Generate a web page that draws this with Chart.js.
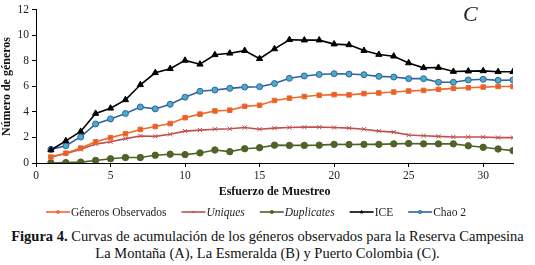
<!DOCTYPE html>
<html>
<head>
<meta charset="utf-8">
<script src="https://cdn.jsdelivr.net/npm/chart.js@4/dist/chart.umd.min.js"></script>
<style>
  body { margin: 0; background: #fff; width: 535px; height: 265px; overflow: hidden; }
  #wrap { position: relative; width: 535px; height: 222px; }
  #letra { position: absolute; left: 463px; top: 1px; font-family: "Liberation Serif", "Times New Roman", Tinos, "DejaVu Serif", serif; font-style: italic; font-size: 22px; color: #222; }
  #pie { font-family: "Liberation Serif", "Times New Roman", Tinos, "DejaVu Serif", serif; font-size: 14.5px; color: #111; text-align: center; line-height: 17px; margin-top: 6px; }
</style>
</head>
<body>
<div id="wrap">
  <canvas id="grafico" width="535" height="222"></canvas>
  <div id="letra">C</div>
</div>
<div id="pie"><b>Figura 4.</b> Curvas de acumulación de los géneros observados para la Reserva Campesina<br>La Montaña (A), La Esmeralda (B) y Puerto Colombia (C).</div>
<script>
// datos
const esfuerzo = [1,2,3,4,5,6,7,8,9,10,11,12,13,14,15,16,17,18,19,20,21,22,23,24,25,26,27,28,29,30,31,32];
const observados = [0.46,0.77,1.17,1.66,1.99,2.30,2.63,2.86,3.09,3.55,3.83,4.08,4.14,4.44,4.52,4.90,5.08,5.21,5.31,5.36,5.34,5.44,5.49,5.56,5.64,5.69,5.77,5.85,5.90,5.95,6.00,6.00];
const uniques = [0.50,0.72,1.07,1.48,1.66,1.91,2.12,2.09,2.25,2.50,2.58,2.65,2.68,2.78,2.65,2.73,2.78,2.81,2.81,2.78,2.73,2.65,2.50,2.42,2.19,2.14,2.09,2.04,2.04,2.04,1.99,1.99];
const duplicates = [0,0.03,0.07,0.20,0.33,0.43,0.43,0.61,0.69,0.66,0.79,1.02,0.89,1.12,1.20,1.40,1.38,1.38,1.40,1.46,1.45,1.46,1.46,1.50,1.53,1.50,1.50,1.50,1.35,1.23,1.10,0.97];
const ice = [1.02,1.73,2.47,3.88,4.29,4.95,6.13,7.07,7.39,8.04,7.74,8.48,8.60,8.81,8.17,8.94,9.66,9.63,9.63,9.32,9.26,8.81,8.50,8.37,7.84,7.46,7.48,7.17,7.20,7.22,7.15,7.15];
const chao2 = [1.07,1.35,2.04,3.06,3.45,3.88,4.39,4.24,4.60,5.16,5.62,5.72,5.85,5.95,5.98,6.23,6.64,6.82,6.94,7.00,6.97,6.92,6.79,6.74,6.61,6.61,6.33,6.33,6.51,6.56,6.48,6.51];

const fuente = "'Liberation Serif', 'Times New Roman', Tinos, 'DejaVu Serif', serif";

function serie(label, valores, color, punto, relleno, radio, italica) {
    return {
        label: label,
        data: esfuerzo.map((x, i) => ({ x: x, y: valores[i] })),
        borderColor: color,
        backgroundColor: relleno,
        pointBackgroundColor: relleno,
        pointBorderColor: color,
        pointStyle: punto,
        pointRadius: radio,
        pointBorderWidth: 1,
        borderWidth: 1.6,
        tension: 0,
        italica: italica
    };
}

const series = [
    serie('Géneros Observados', observados, '#EC6A2C', 'rect', '#E4622A', 3.2, false),
    serie('Uniques', uniques, '#C0504D', 'crossRot', '#C0504D', 3, true),
    serie('Duplicates', duplicates, '#4F6228', 'circle', '#4F6228', 3.2, true),
    serie('ICE', ice, '#000000', 'triangle', '#000000', 3.6, false),
    serie('Chao 2', chao2, '#2F62A0', 'circle', '#4BACC6', 3, false)
];

// leyenda dibujada a mano (línea + marcador pequeño)
const leyenda = {
    id: 'leyenda',
    afterDraw(chart) {
        const ctx = chart.ctx;
        let x = 46;
        const y = 212;
        ctx.save();
        chart.data.datasets.forEach(ds => {
            ctx.strokeStyle = ds.borderColor;
            ctx.lineWidth = 1.6;
            ctx.beginPath();
            ctx.moveTo(x, y);
            ctx.lineTo(x + 24, y);
            ctx.stroke();
            ctx.fillStyle = ds.pointBackgroundColor;
            ctx.lineWidth = 1;
            Chart.helpers.drawPoint(ctx, { pointStyle: ds.pointStyle, radius: 1.6, borderWidth: 1 }, x + 12, y);
            ctx.font = (ds.italica ? 'italic ' : '') + '11.5px ' + fuente;
            ctx.fillStyle = '#222';
            ctx.textBaseline = 'middle';
            ctx.fillText(ds.label, x + 25, y + 1);
            x += 25 + ctx.measureText(ds.label).width + 15;
        });
        ctx.restore();
    }
};

new Chart(document.getElementById('grafico'), {
    type: 'line',
    data: { datasets: series },
    options: {
        responsive: false,
        animation: false,
        layout: { padding: { left: 0, right: 22, top: 7, bottom: 23 } },
        plugins: { legend: { display: false }, tooltip: { enabled: false } },
        scales: {
            x: {
                type: 'linear',
                min: 0,
                max: 32,
                afterFit: s => { s.height = 36; },
                afterBuildTicks: s => { s.ticks = s.ticks.filter(t => t.value % 5 === 0); },
                ticks: { stepSize: 5, color: '#222', font: { family: fuente, size: 11.5 }, padding: 2, maxRotation: 0 },
                grid: { drawOnChartArea: false, color: '#000', tickLength: 4 },
                border: { color: '#000', width: 1 },
                title: { display: true, text: 'Esfuerzo de Muestreo', color: '#111', font: { family: fuente, size: 12, weight: 'bold' }, padding: 0 }
            },
            y: {
                min: 0,
                max: 12,
                afterFit: s => { s.width = 36; },
                ticks: { stepSize: 2, color: '#222', font: { family: fuente, size: 11.5 }, padding: 3 },
                grid: { drawOnChartArea: false, color: '#000', tickLength: 4 },
                border: { color: '#000', width: 1 },
                title: { display: true, text: 'Número de géneros', color: '#111', font: { family: fuente, size: 12, weight: 'bold' }, padding: 0 }
            }
        }
    },
    plugins: [leyenda]
});
</script>
</body>
</html>
